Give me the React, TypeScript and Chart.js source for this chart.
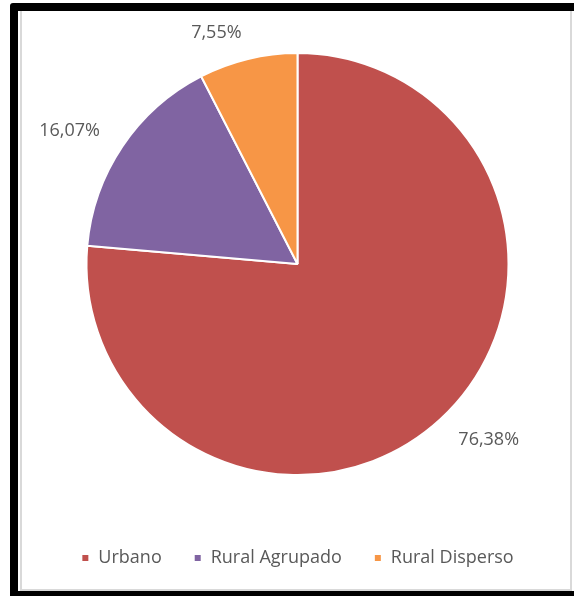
import React, { useEffect, useRef } from "react";
import { Chart, registerables } from "chart.js";

Chart.register(...registerables);

const categories = ["Urbano", "Rural Agrupado", "Rural Disperso"];
const shares = [76.38, 16.07, 7.55];
const sliceColors = ["#C0504D", "#8064A2", "#F79646"];

const TEXT_COLOR = "#595959";
const FONT = "'Open Sans', 'DejaVu Sans', sans-serif";

const outsideLabels = {
  id: "outsideLabels",
  afterDatasetsDraw(chart: any) {
    const ctx = chart.ctx;
    const meta = chart.getDatasetMeta(0);
    const data = chart.data.datasets[0].data as number[];
    ctx.save();
    ctx.font = `18px ${FONT}`;
    ctx.fillStyle = TEXT_COLOR;
    ctx.textBaseline = "middle";
    meta.data.forEach((arc: any, i: number) => {
      const mid = (arc.startAngle + arc.endAngle) / 2;
      const r = arc.outerRadius + 27;
      const cx = arc.x + Math.cos(mid) * r;
      const cy = arc.y + Math.sin(mid) * r;
      const c = Math.cos(mid);
      ctx.textAlign = c < -0.1 ? "right" : c > 0.1 ? "left" : "center";
      const txt = data[i].toFixed(2).replace(".", ",") + "%";
      ctx.fillText(txt, cx, cy);
    });
    ctx.restore();
  },
};

export default function App() {
  const ref = useRef<HTMLCanvasElement | null>(null);
  useEffect(() => {
    if (!ref.current) return;
    const chart = new Chart(ref.current, {
      type: "pie",
      data: {
        labels: categories,
        datasets: [
          {
            data: shares,
            backgroundColor: sliceColors,
            borderColor: "#ffffff",
            borderWidth: 2,
            radius: 211,
          },
        ],
      },
      options: {
        animation: false,
        responsive: false,
        maintainAspectRatio: false,
        layout: { padding: { top: 0, bottom: 12, left: 4, right: 0 } },
        plugins: {
          legend: {
            position: "bottom",
            labels: {
              boxWidth: 8,
              boxHeight: 8,
              padding: 32,
              color: TEXT_COLOR,
              font: { family: FONT, size: 18 },
            },
          },
          tooltip: { enabled: false },
        },
      },
      plugins: [outsideLabels],
    });
    return () => chart.destroy();
  }, []);

  return (
    <div style={{ position: "absolute", left: 0, top: 0, width: 574, height: 596, background: "#fff", overflow: "hidden" }}>
      <div style={{ position: "absolute", left: 10, top: 3, width: 564, height: 593, background: "#000", borderTopLeftRadius: 3 }} />
      <div style={{ position: "absolute", left: 18, top: 11, width: 556, height: 580, background: "#fff" }} />
      <div
        style={{
          position: "absolute",
          left: 20,
          top: 11,
          width: 548,
          height: 578,
          borderLeft: "2px solid #d9d9d9",
          borderRight: "2px solid #d9d9d9",
          borderBottom: "2px solid #d9d9d9",
        }}
      />
      <canvas ref={ref} width={547} height={578} style={{ position: "absolute", left: 22, top: 11, width: 547, height: 578 }} />
    </div>
  );
}
